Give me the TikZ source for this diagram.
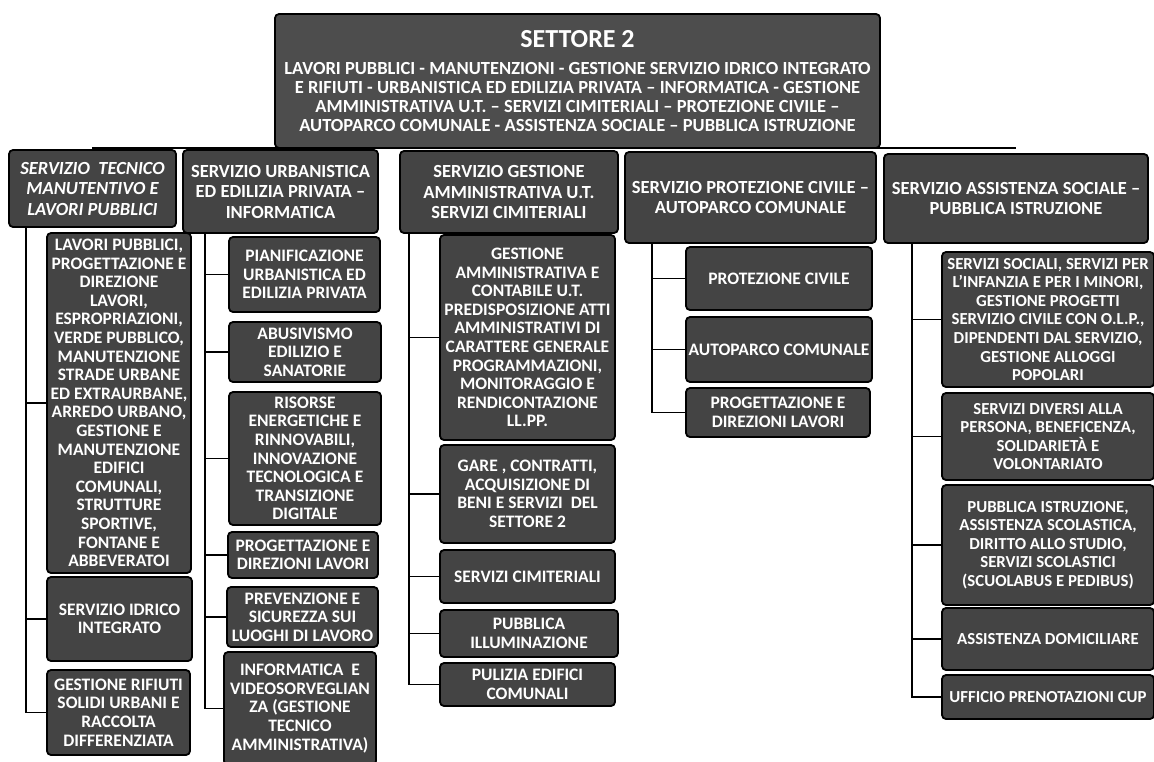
\documentclass[tikz,border=0pt]{standalone}
\usepackage{fontspec}
\setmainfont{Carlito}
\usetikzlibrary{backgrounds}
\definecolor{boxgray}{HTML}{444444}
\definecolor{topgray}{HTML}{4D4D4D}
\begin{document}
\begin{tikzpicture}[x=1pt,y=-1pt,
  box/.style={draw=black, line width=1.8pt, fill=boxgray, rounded corners=4pt,
    text=white, align=center, inner sep=0pt,
    font=\bfseries\fontsize{17.5}{18.6}\selectfont},
  head/.style={box, font=\bfseries\fontsize{18.5}{20.5}\selectfont},
  rbox/.style={box, font=\bfseries\fontsize{16.8}{18.6}\selectfont},
  conn/.style={draw=black, line width=1.6pt}]
\useasboundingbox (0,0) rectangle (1154,761);

% top
\node[box, fill=topgray, minimum width=605, minimum height=134,
  font=\bfseries\fontsize{18.5}{18.8}\selectfont] (top) at (577.5,81)
 {\fontsize{26}{28}\selectfont SETTORE 2\\[8pt]
  \fontsize{18.5}{18.8}\selectfont LAVORI PUBBLICI - MANUTENZIONI - GESTIONE SERVIZIO IDRICO INTEGRATO\\
  E RIFIUTI - URBANISTICA ED EDILIZIA PRIVATA -- INFORMATICA - GESTIONE\\
  AMMINISTRATIVA U.T. -- SERVIZI CIMITERIALI -- PROTEZIONE CIVILE --\\
  AUTOPARCO COMUNALE - ASSISTENZA SOCIALE -- PUBBLICA ISTRUZIONE};

% level 2
\node[head, minimum width=167, minimum height=77,
  font=\bfseries\itshape\fontsize{18.5}{20.5}\selectfont] (s1) at (92.5,188.5)
 {SERVIZIO\ \ TECNICO\\MANUTENTIVO E\\LAVORI PUBBLICI};
\node[head, minimum width=195, minimum height=83] (s2) at (280.5,191.5)
 {SERVIZIO URBANISTICA\\ED EDILIZIA PRIVATA --\\INFORMATICA};
\node[head, minimum width=218, minimum height=82] (s3) at (509,192)
 {SERVIZIO GESTIONE\\AMMINISTRATIVA U.T.\\SERVIZI CIMITERIALI};
\node[head, minimum width=251, minimum height=91] (s4) at (750.5,197.5)
 {SERVIZIO PROTEZIONE CIVILE --\\AUTOPARCO COMUNALE};
\node[head, minimum width=264, minimum height=89] (s5) at (1016,198.5)
 {SERVIZIO ASSISTENZA SOCIALE --\\PUBBLICA ISTRUZIONE};

% column 1
\node[box, minimum width=144, minimum height=340] (a1) at (119,403)
 {LAVORI PUBBLICI,\\PROGETTAZIONE E\\DIREZIONE\\LAVORI,\\ESPROPRIAZIONI,\\VERDE PUBBLICO,\\MANUTENZIONE\\STRADE URBANE\\ED EXTRAURBANE,\\ARREDO URBANO,\\GESTIONE E\\MANUTENZIONE\\EDIFICI\\COMUNALI,\\STRUTTURE\\SPORTIVE,\\FONTANE E\\ABBEVERATOI};
\node[box, minimum width=145, minimum height=84] (a2) at (119.5,619)
 {SERVIZIO IDRICO\\INTEGRATO};
\node[box, minimum width=143, minimum height=85] (a3) at (118.5,712.5)
 {GESTIONE RIFIUTI\\SOLIDI URBANI E\\RACCOLTA\\DIFFERENZIATA};

% column 2
\node[box, minimum width=151, minimum height=75] (b1) at (304.5,274.5)
 {PIANIFICAZIONE\\URBANISTICA ED\\EDILIZIA PRIVATA};
\node[box, minimum width=152, minimum height=60] (b2) at (305,352)
 {ABUSIVISMO\\EDILIZIO E\\SANATORIE};
\node[box, minimum width=152, minimum height=133] (b3) at (305,458.5)
 {RISORSE\\ENERGETICHE E\\RINNOVABILI,\\INNOVAZIONE\\TECNOLOGICA E\\TRANSIZIONE\\DIGITALE};
\node[box, minimum width=150, minimum height=46] (b4) at (303,555)
 {PROGETTAZIONE E\\DIREZIONI LAVORI};
\node[box, minimum width=151, minimum height=60] (b5) at (302.5,617)
 {PREVENZIONE E\\SICUREZZA SUI\\LUOGHI DI LAVORO};
\node[box, minimum width=152, minimum height=113] (b6) at (300,708.5)
 {INFORMATICA\ \ E\\VIDEOSORVEGLIAN\\ZA (GESTIONE\\TECNICO\\AMMINISTRATIVA)};

% column 3
\node[box, minimum width=175, minimum height=205] (c1) at (527.5,337.5)
 {GESTIONE\\AMMINISTRATIVA E\\CONTABILE U.T.\\PREDISPOSIZIONE ATTI\\AMMINISTRATIVI DI\\CARATTERE GENERALE\\PROGRAMMAZIONI,\\MONITORAGGIO E\\RENDICONTAZIONE\\LL.PP.};
\node[box, minimum width=175, minimum height=98] (c2) at (527.5,494)
 {GARE , CONTRATTI,\\ACQUISIZIONE DI\\BENI E SERVIZI\ \ DEL\\SETTORE 2};
\node[box, minimum width=175, minimum height=53] (c3) at (527.5,576.5)
 {SERVIZI CIMITERIALI};
\node[box, minimum width=178, minimum height=47] (c4) at (529,633.5)
 {PUBBLICA\\ILLUMINAZIONE};
\node[box, minimum width=175, minimum height=43] (c5) at (527.5,684.5)
 {PULIZIA EDIFICI\\COMUNALI};

% column 4
\node[box, minimum width=186, minimum height=63] (d1) at (779,278.5)
 {PROTEZIONE CIVILE};
\node[box, minimum width=186, minimum height=65] (d2) at (779,349.5)
 {AUTOPARCO COMUNALE};
\node[box, minimum width=184, minimum height=49] (d3) at (778,412.5)
 {PROGETTAZIONE E\\DIREZIONI LAVORI};

% column 5
\node[rbox, minimum width=212, minimum height=135] (e1) at (1048,319.5)
 {SERVIZI SOCIALI, SERVIZI PER\\L'INFANZIA E PER I MINORI,\\GESTIONE PROGETTI\\SERVIZIO CIVILE CON O.L.P.,\\DIPENDENTI DAL SERVIZIO,\\GESTIONE ALLOGGI\\POPOLARI};
\node[rbox, minimum width=212, minimum height=87] (e2) at (1048,436.5)
 {SERVIZI DIVERSI ALLA\\PERSONA, BENEFICENZA,\\SOLIDARIETÀ E\\VOLONTARIATO};
\node[rbox, minimum width=212, minimum height=120] (e3) at (1048,545)
 {PUBBLICA ISTRUZIONE,\\ASSISTENZA SCOLASTICA,\\DIRITTO ALLO STUDIO,\\SERVIZI SCOLASTICI\\(SCUOLABUS E PEDIBUS)};
\node[rbox, minimum width=212, minimum height=62] (e4) at (1048,639)
 {ASSISTENZA DOMICILIARE};
\node[rbox, minimum width=212, minimum height=44] (e5) at (1048,697)
 {UFFICIO PRENOTAZIONI CUP};

% connectors
\coordinate (hl) at (92,148);
\coordinate (hr) at (1016,148);
\coordinate (t1) at (26,227);
\coordinate (t2) at (205,233);
\coordinate (t3) at (409,233);
\coordinate (t4) at (652,243);
\coordinate (t5) at (912,243);
\begin{scope}[on background layer]
\fill[white] (0,0) rectangle (1154,761);
\draw[conn] (hl) -- (hr);
\foreach \c in {a1,a2,a3} \draw[conn] (t1) |- (\c.west);
\foreach \c in {b1,b2,b3,b4,b5,b6} \draw[conn] (t2) |- (\c.west);
\foreach \c in {c1,c2,c3,c4,c5} \draw[conn] (t3) |- (\c.west);
\foreach \c in {d1,d2,d3} \draw[conn] (t4) |- (\c.west);
\foreach \c in {e1,e2,e3,e4,e5} \draw[conn] (t5) |- (\c.west);
\end{scope}
\end{tikzpicture}
\end{document}
